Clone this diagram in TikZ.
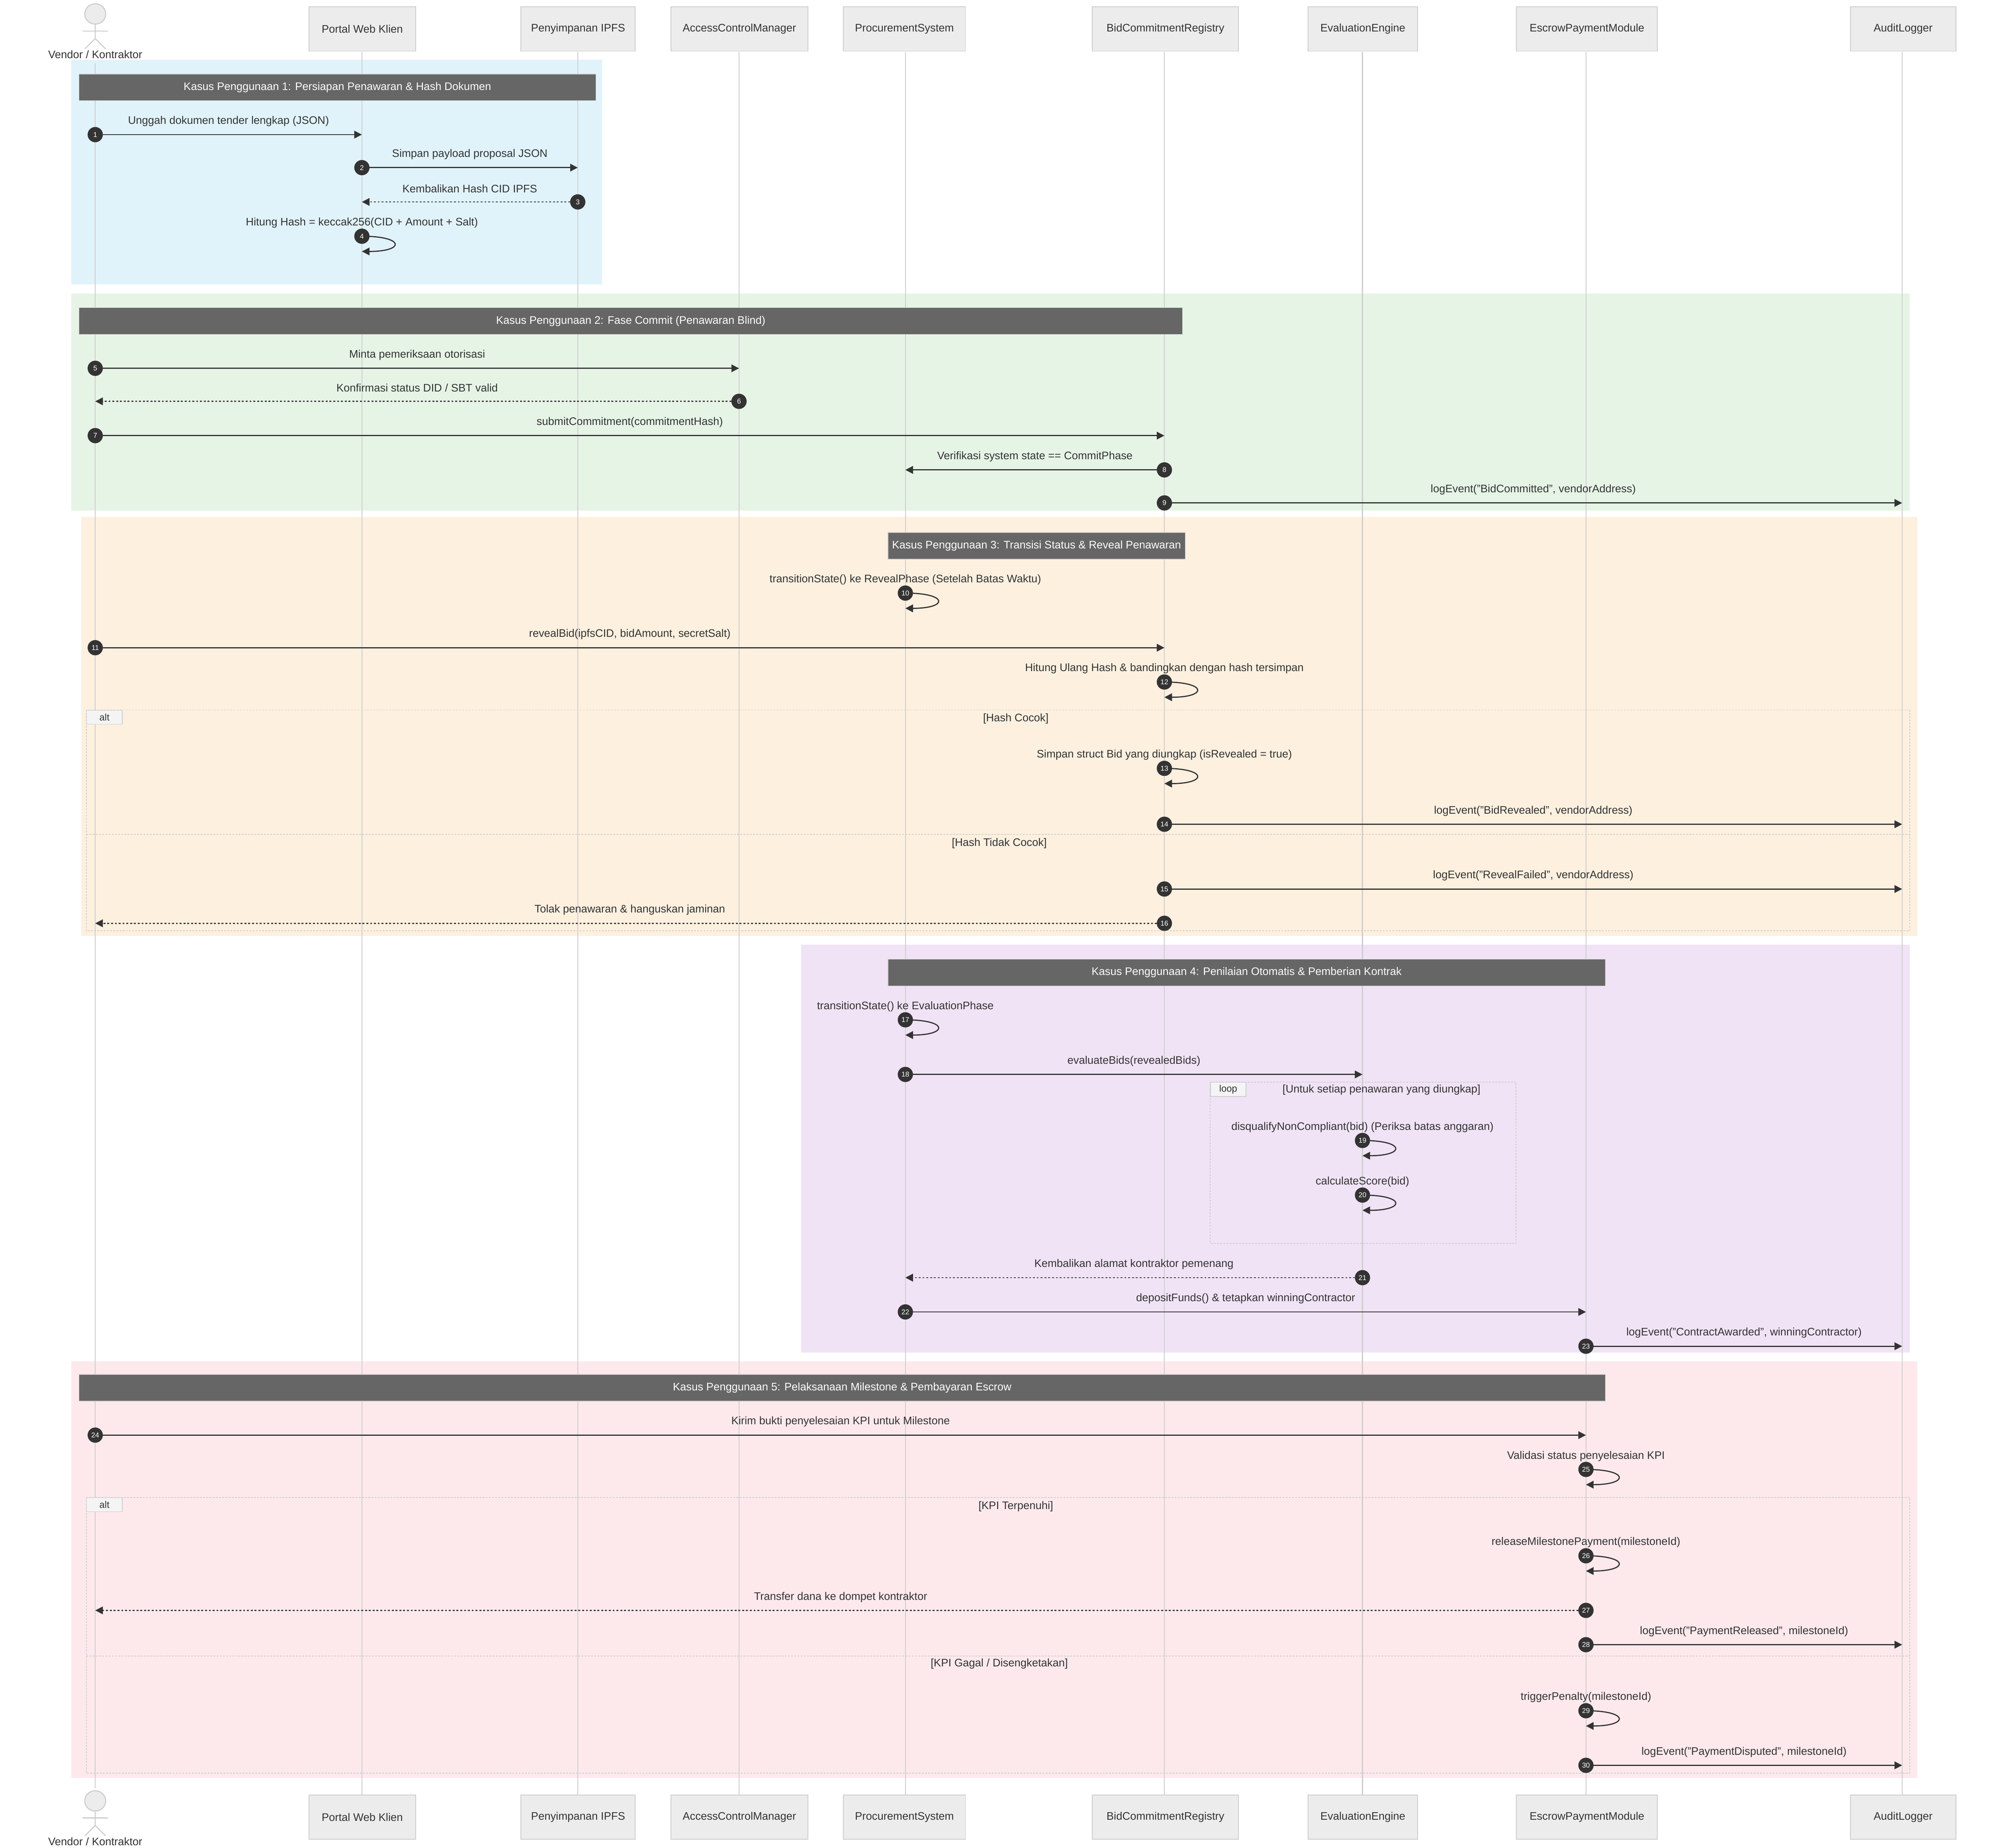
\documentclass[tikz,border=0pt]{standalone}
\usepackage{fontspec}
\setmainfont{Liberation Sans}
\usetikzlibrary{arrows.meta,calc,shapes.geometric}
\definecolor{cblue}{HTML}{E0F3FB}
\definecolor{cgreen}{HTML}{E6F4E6}
\definecolor{corange}{HTML}{FDF0DF}
\definecolor{cpurple}{HTML}{F0E3F5}
\definecolor{cpink}{HTML}{FDE9EC}
\definecolor{bar}{HTML}{666666}
\definecolor{dark}{HTML}{333333}
\definecolor{life}{HTML}{CCCCCC}
\definecolor{pbox}{HTML}{ECECEC}
\begin{document}
\begin{tikzpicture}[x=1pt,y=-1pt,
  lbl/.style={font=\fontsize{8.6}{9}\selectfont,text=dark,inner sep=0pt},
  part/.style={draw=life,fill=pbox,line width=0.6pt,font=\fontsize{8.6}{9}\selectfont,text=dark},
  titlebar/.style={fill=bar,draw=life,line width=0.5pt,text=white,font=\fontsize{8.6}{9}\selectfont},
  lifeline/.style={draw=life,line width=0.7pt},
  solidmsg/.style={draw=dark,line width=0.9pt,-{Triangle[length=6pt,width=6pt]}},
  dotmsg/.style={draw=dark,line width=0.9pt,dash pattern=on 1.5pt off 1.5pt,-{Triangle[length=6pt,width=6pt]}},
  num/.style={circle,fill=dark,text=white,inner sep=0pt,minimum size=12pt,font=\fontsize{5.5}{6}\selectfont},
  frame/.style={draw=life,line width=0.6pt,dash pattern=on 1.5pt off 1pt},
  tag/.style={draw=life,fill=pbox!60,line width=0.5pt,font=\fontsize{7.5}{8}\selectfont,text=dark,inner sep=0pt},
  stick/.style={draw=life,line width=0.8pt}
]
\useasboundingbox[fill=white] (0,0) rectangle (1568,1455);
\def\xV{75}\def\xP{285}\def\xI{455}\def\xA{582}\def\xR{713}\def\xB{917}\def\xE{1073}\def\xS{1249}\def\xL{1498}
\newcommand\msgline[6]{%
  \coordinate (m#1a) at (#3,#2); \coordinate (m#1b) at (#4,#2);
  \draw[#6] (m#1a) -- (m#1b);
  \node[lbl] (t#1) at ($(m#1a)!0.5!(m#1b)+(0,-10.5)$) {#5};
  \node[num] (n#1) at (m#1a) {#1};}
\newcommand\msgself[4]{%
  \coordinate (m#1a) at (#3,#2); \coordinate (m#1b) at (#3,#2+12);
  \draw[solidmsg] (m#1a) .. controls ($(m#1a)+(34,0)$) and ($(m#1b)+(34,0)$) .. (m#1b);
  \node[lbl] (t#1) at (#3,#2-10.5) {#4};
  \node[num] (n#1) at (m#1a) {#1};}
% regions
\fill[cblue] (56,47) rectangle (474,224);
\fill[cgreen] (56,231) rectangle (1504,402);
\fill[corange] (64,407) rectangle (1510,737);
\fill[cpurple] (631,744) rectangle (1504,1065);
\fill[cpink] (56,1072) rectangle (1510,1400);
% lifelines
\foreach \x in {\xP,\xI,\xA,\xR,\xB,\xE,\xS,\xL} \draw[lifeline] (\x,41) -- (\x,1413);
\draw[lifeline] (\xV,50) -- (\xV,1408);
% participants
\foreach \nm/\a/\b/\t in {p/243/327/Portal Web Klien,i/410/500/Penyimpanan IPFS,a/528/636/AccessControlManager,r/664/760/ProcurementSystem,b/860/975/BidCommitmentRegistry,e/1030/1116/EvaluationEngine,s/1194/1305/EscrowPaymentModule,l/1457/1540/AuditLogger}{
  \pgfmathsetmacro\w{\b-\a}
  \node[part,minimum width=\w pt,minimum height=35pt,anchor=north west] (top\nm) at (\a,5) {\t};
  \node[part,minimum width=\w pt,minimum height=35pt,anchor=north west] (bot\nm) at (\a,1413) {\t};}
% actors
\foreach \nm/\y in {top/11,bot/1418}{
  \node[ellipse,draw=life,fill=pbox,line width=0.8pt,minimum width=16.5pt,minimum height=16pt,inner sep=0pt] (head\nm) at (\xV,\y) {};
  \draw[stick] (head\nm.south) -- ++(0,11) coordinate (hip\nm) -- ++(-8,8);
  \draw[stick] (hip\nm) -- ++(8,8);
  \draw[stick] ($(head\nm.south)+(-10,5)$) -- ++(20,0);
  \node[lbl] (act\nm) at (\xV,\y+32) {Vendor / Kontraktor};}
% title bars
\node[titlebar,minimum width=407pt,minimum height=21pt,anchor=north west] (h1) at (62,58) {Kasus Penggunaan 1: Persiapan Penawaran \& Hash Dokumen};
\node[titlebar,minimum width=869pt,minimum height=21pt,anchor=north west] (h2) at (62,242) {Kasus Penggunaan 2: Fase Commit (Penawaran Blind)};
\node[titlebar,minimum width=232pt,minimum height=21pt,anchor=north west] (h3) at (699,419) {Kasus Penggunaan 3: Transisi Status \& Reveal Penawaran};
\node[titlebar,minimum width=565pt,minimum height=21pt,anchor=north west] (h4) at (699,755) {Kasus Penggunaan 4: Penilaian Otomatis \& Pemberian Kontrak};
\node[titlebar,minimum width=1202pt,minimum height=21pt,anchor=north west] (h5) at (62,1082) {Kasus Penggunaan 5: Pelaksanaan Milestone \& Pembayaran Escrow};
% frames
\draw[frame] (68,559) rectangle (1504,733);
\draw[frame] (68,657) -- (1504,657);
\node[tag,minimum width=28pt,minimum height=11pt,anchor=north west] (alt1) at (68,559) {alt};
\node[lbl] (g1) at (800,566) {[Hash Cocok]};
\node[lbl] (g2) at (787,664) {[Hash Tidak Cocok]};
\draw[frame] (953,852) rectangle (1194,979);
\node[tag,minimum width=28pt,minimum height=11pt,anchor=north west] (loop1) at (953,852) {loop};
\node[lbl] (g3) at (1088,858) {[Untuk setiap penawaran yang diungkap]};
\draw[frame] (68,1179) rectangle (1504,1396);
\draw[frame] (68,1304) -- (1504,1304);
\node[tag,minimum width=28pt,minimum height=11pt,anchor=north west] (alt2) at (68,1179) {alt};
\node[lbl] (g4) at (800,1186) {[KPI Terpenuhi]};
\node[lbl] (g5) at (787,1310) {[KPI Gagal / Disengketakan]};
% messages
\msgline{1}{106}{\xV}{\xP}{Unggah dokumen tender lengkap (JSON)}{solidmsg}
\msgline{2}{132}{\xP}{\xI}{Simpan payload proposal JSON}{solidmsg}
\msgline{3}{159}{\xI}{\xP}{Kembalikan Hash CID IPFS}{dotmsg}
\msgself{4}{186}{\xP}{Hitung Hash = keccak256(CID + Amount + Salt)}
\msgline{5}{290}{\xV}{\xA}{Minta pemeriksaan otorisasi}{solidmsg}
\msgline{6}{316}{\xA}{\xV}{Konfirmasi status DID / SBT valid}{dotmsg}
\msgline{7}{343}{\xV}{\xB}{submitCommitment(commitmentHash)}{solidmsg}
\msgline{8}{370}{\xB}{\xR}{Verifikasi system state == CommitPhase}{solidmsg}
\msgline{9}{396}{\xB}{\xL}{logEvent("BidCommitted", vendorAddress)}{solidmsg}
\msgself{10}{467}{\xR}{transitionState() ke RevealPhase (Setelah Batas Waktu)}
\msgline{11}{510}{\xV}{\xB}{revealBid(ipfsCID, bidAmount, secretSalt)}{solidmsg}
\msgself{12}{537}{\xB}{Hitung Ulang Hash \& bandingkan dengan hash tersimpan}
\msgself{13}{605}{\xB}{Simpan struct Bid yang diungkap (isRevealed = true)}
\msgline{14}{649}{\xB}{\xL}{logEvent("BidRevealed", vendorAddress)}{solidmsg}
\msgline{15}{700}{\xB}{\xL}{logEvent("RevealFailed", vendorAddress)}{solidmsg}
\msgline{16}{727}{\xB}{\xV}{Tolak penawaran \& hanguskan jaminan}{dotmsg}
\msgself{17}{803}{\xR}{transitionState() ke EvaluationPhase}
\msgline{18}{846}{\xR}{\xE}{evaluateBids(revealedBids)}{solidmsg}
\msgself{19}{898}{\xE}{disqualifyNonCompliant(bid) (Periksa batas anggaran)}
\msgself{20}{941}{\xE}{calculateScore(bid)}
\msgline{21}{1006}{\xE}{\xR}{Kembalikan alamat kontraktor pemenang}{dotmsg}
\msgline{22}{1033}{\xR}{\xS}{depositFunds() \& tetapkan winningContractor}{solidmsg}
\msgline{23}{1060}{\xS}{\xL}{logEvent("ContractAwarded", winningContractor)}{solidmsg}
\msgline{24}{1130}{\xV}{\xS}{Kirim bukti penyelesaian KPI untuk Milestone}{solidmsg}
\msgself{25}{1157}{\xS}{Validasi status penyelesaian KPI}
\msgself{26}{1225}{\xS}{releaseMilestonePayment(milestoneId)}
\msgline{27}{1268}{\xS}{\xV}{Transfer dana ke dompet kontraktor}{dotmsg}
\msgline{28}{1295}{\xS}{\xL}{logEvent("PaymentReleased", milestoneId)}{solidmsg}
\msgself{29}{1347}{\xS}{triggerPenalty(milestoneId)}
\msgline{30}{1390}{\xS}{\xL}{logEvent("PaymentDisputed", milestoneId)}{solidmsg}
\end{tikzpicture}
\end{document}
